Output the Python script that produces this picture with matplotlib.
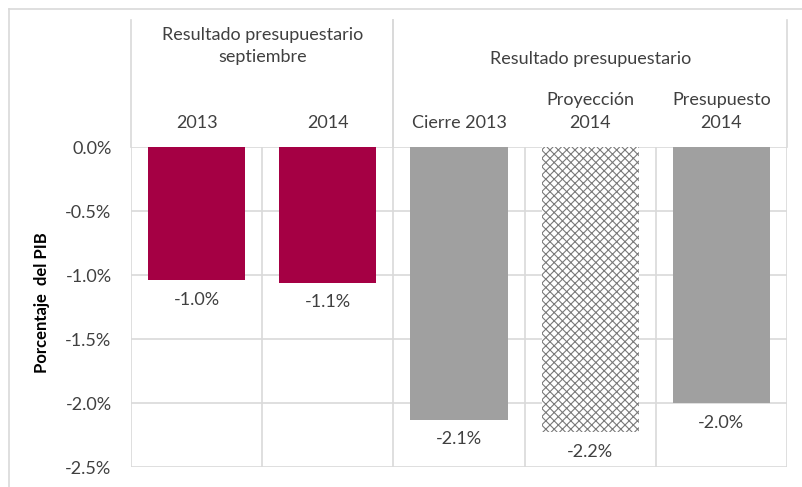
import numpy as np
import matplotlib
matplotlib.use('Agg')
import matplotlib.pyplot as plt
from matplotlib.lines import Line2D

plt.rcParams['font.family'] = ['Lato', 'DejaVu Sans']
plt.rcParams['hatch.color'] = '#7a7a7a'
plt.rcParams['hatch.linewidth'] = 0.8

categories = ['2013', '2014', 'Cierre 2013', 'Proyección\n2014', 'Presupuesto\n2014']
values = [-1.04, -1.06, -2.13, -2.23, -2.0]
labels = ['-1.0%', '-1.1%', '-2.1%', '-2.2%', '-2.0%']
groups = ['Resultado presupuestario\nseptiembre', 'Resultado presupuestario']
group_span = [(0, 2), (2, 5)]
yticks = [0.0, -0.5, -1.0, -1.5, -2.0, -2.5]

crimson = '#a50044'
gray = '#a0a0a0'
grid = '#d9d9d9'
txt = '#404040'
fs = 13

fig = plt.figure(figsize=(8.02, 4.87), dpi=100)
ax = fig.add_axes([131/802, 1-467/487, 656/802, 320/487])

x = np.arange(len(categories))
cols = [crimson, crimson, gray, 'white', gray]
bars = ax.bar(x, values, width=0.74, color=cols, zorder=3, linewidth=0)
bars[3].set_hatch('xxxx')
bars[3].set_edgecolor('#7a7a7a')
bars[3].set_linewidth(0)

ax.set_xlim(-0.5, len(categories) - 0.5)
ax.set_ylim(-2.5, 0)
ax.set_yticks(yticks)
ax.set_yticklabels(['%.1f%%' % v for v in yticks], fontsize=fs, color=txt)
ax.tick_params(axis='y', length=0, pad=14)
ax.set_xticks([])
for s in ax.spines.values():
    s.set_visible(False)

for yv in yticks:
    ax.axhline(yv, color=grid, lw=1.2, zorder=1)
for xv in np.arange(-0.5, len(categories), 1.0):
    ax.axvline(xv, color=grid, lw=1.2, zorder=1)

# group separators extend into header
trans = ax.get_xaxis_transform()
for a, b in group_span:
    for xv in (a - 0.5, b - 0.5):
        ax.add_line(Line2D([xv, xv], [1.0, 1.397], transform=trans, color=grid,
                           lw=1.2, clip_on=False))

for (a, b), g in zip(group_span, groups):
    ax.text((a + b - 1) / 2, 1.275 if '\n' not in g else 1.315, g, transform=trans,
            ha='center', va='center', fontsize=fs, color=txt, linespacing=1.5)

for xi, c in zip(x, categories):
    ax.text(xi, 1.05, c, transform=trans, ha='center', va='bottom',
            fontsize=fs, color=txt, linespacing=1.5)

for xi, v, l in zip(x, values, labels):
    ax.text(xi, v - 0.09, l, ha='center', va='top', fontsize=fs, color=txt)

ax.set_ylabel('Porcentaje  del PIB', fontsize=12, fontweight='bold', color='black')
ax.yaxis.set_label_coords(-0.124, 0.5125)

# outer frame
fig.add_artist(Line2D([9/802, 9/802], [0, 1-9/487], transform=fig.transFigure, color=grid, lw=1.2))
fig.add_artist(Line2D([9/802, 1], [1-9/487, 1-9/487], transform=fig.transFigure, color=grid, lw=1.2))

fig.savefig('out.png', dpi=100)
